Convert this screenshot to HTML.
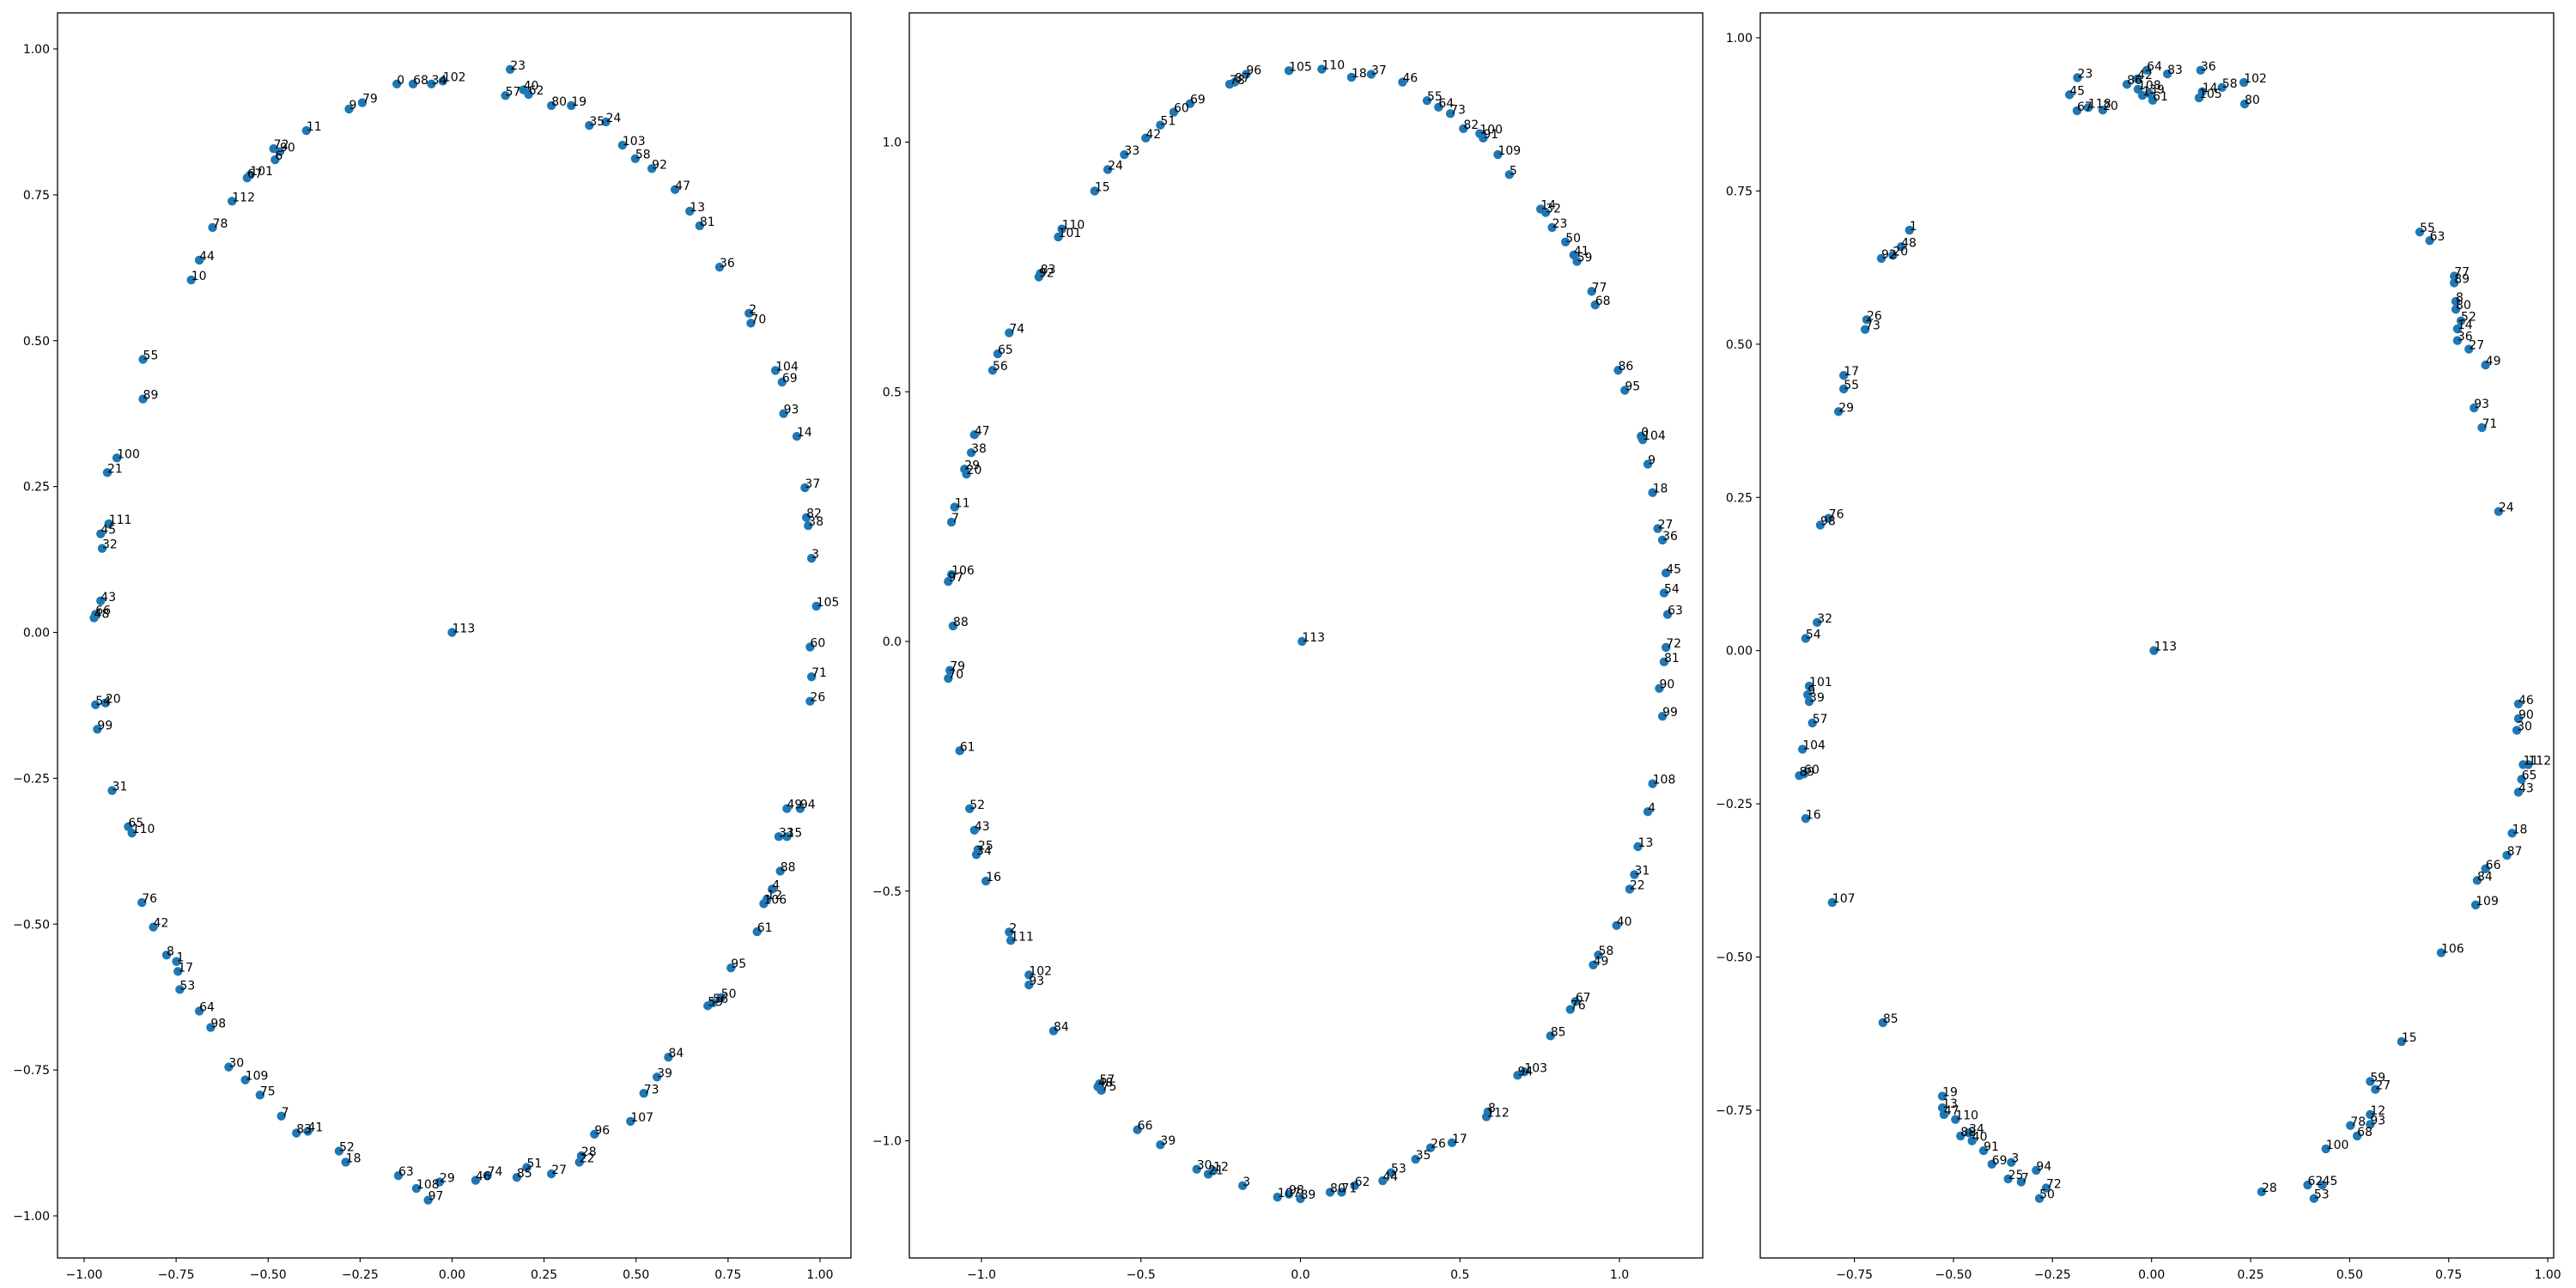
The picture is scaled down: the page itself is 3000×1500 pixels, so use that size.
<!DOCTYPE html>
<html><head><meta charset="utf-8"><title>Three scatter panels</title>
<style>html,body{margin:0;padding:0;background:#fff}svg{display:block}</style></head>
<body>
<svg id="chart" width="3000" height="1500" xmlns="http://www.w3.org/2000/svg" font-family="DejaVu Sans, Liberation Sans, sans-serif"></svg>
<script>
const p1Labels=["0","68","34","102","9","79","23","57","40","62","80","19","35","24","103","58","92","47","13","81","36","2","70","104","69","93","14","37","82","38","3","105","60","71","26","49","94","33","15","88","4","12","106","61","95","50","56","59","84","39","73","107","96","28","22","51","85","27","46","74","29","108","97","63","52","18","83","41","7","75","109","30","98","64","53","17","1","8","42","76","110","65","31","99","54","20","43","66","48","32","45","111","21","100","89","55","10","44","78","112","67","101","6","72","90","11","113"];
const p1X=[-0.15,-0.106,-0.056,-0.025,-0.28,-0.244,0.158,0.145,0.194,0.208,0.27,0.324,0.373,0.418,0.463,0.498,0.543,0.606,0.646,0.673,0.727,0.807,0.812,0.879,0.897,0.901,0.937,0.959,0.963,0.968,0.977,0.99,0.973,0.977,0.973,0.91,0.946,0.888,0.91,0.892,0.87,0.856,0.847,0.829,0.758,0.731,0.709,0.695,0.588,0.557,0.521,0.485,0.387,0.351,0.346,0.203,0.176,0.27,0.064,0.096,-0.034,-0.097,-0.065,-0.146,-0.307,-0.289,-0.423,-0.392,-0.464,-0.522,-0.562,-0.607,-0.656,-0.687,-0.74,-0.745,-0.749,-0.776,-0.812,-0.843,-0.87,-0.88,-0.924,-0.964,-0.969,-0.942,-0.955,-0.969,-0.973,-0.951,-0.955,-0.933,-0.937,-0.911,-0.84,-0.84,-0.709,-0.687,-0.651,-0.598,-0.557,-0.549,-0.481,-0.485,-0.468,-0.396,0];
const p1Y=[0.94,0.94,0.94,0.945,0.897,0.908,0.965,0.92,0.93,0.922,0.903,0.903,0.869,0.875,0.835,0.812,0.795,0.759,0.722,0.697,0.626,0.547,0.53,0.449,0.429,0.375,0.336,0.248,0.197,0.183,0.127,0.045,-0.025,-0.076,-0.118,-0.302,-0.302,-0.35,-0.35,-0.409,-0.44,-0.457,-0.465,-0.513,-0.575,-0.626,-0.635,-0.64,-0.728,-0.762,-0.79,-0.838,-0.86,-0.897,-0.908,-0.917,-0.934,-0.928,-0.939,-0.931,-0.942,-0.953,-0.973,-0.931,-0.889,-0.908,-0.858,-0.855,-0.829,-0.793,-0.767,-0.745,-0.677,-0.649,-0.612,-0.581,-0.564,-0.553,-0.505,-0.463,-0.344,-0.333,-0.271,-0.166,-0.124,-0.121,0.054,0.031,0.025,0.144,0.169,0.186,0.274,0.299,0.4,0.468,0.604,0.638,0.694,0.739,0.779,0.784,0.81,0.829,0.824,0.86,0];

const p2Labels=["105","110","18","37","46","55","64","73","82","100","91","109","5","14","32","23","50","41","59","77","68","86","95","0","104","9","18","27","36","45","54","63","72","81","90","99","108","4","13","31","22","40","58","49","67","76","85","94","103","112","8","17","26","35","53","44","62","71","80","89","98","107","3","21","30","12","39","66","57","75","48","84","93","102","111","2","61","52","43","25","34","16","70","79","88","106","97","7","11","20","29","38","47","56","65","74","92","83","101","110","15","24","33","42","51","60","69","78","87","96","113"];
const p2X=[-0.036,0.067,0.16,0.222,0.32,0.397,0.433,0.47,0.511,0.562,0.573,0.619,0.655,0.753,0.769,0.789,0.831,0.857,0.867,0.913,0.924,0.996,1.017,1.068,1.073,1.089,1.104,1.12,1.135,1.146,1.14,1.151,1.146,1.14,1.125,1.135,1.104,1.089,1.058,1.047,1.032,0.991,0.934,0.918,0.862,0.846,0.784,0.681,0.702,0.583,0.588,0.475,0.408,0.361,0.284,0.258,0.17,0.129,0.093,0,-0.036,-0.072,-0.181,-0.289,-0.325,-0.273,-0.439,-0.511,-0.63,-0.624,-0.635,-0.774,-0.851,-0.851,-0.908,-0.913,-1.068,-1.037,-1.022,-1.011,-1.016,-0.986,-1.104,-1.099,-1.089,-1.094,-1.104,-1.094,-1.084,-1.047,-1.053,-1.032,-1.022,-0.965,-0.949,-0.913,-0.82,-0.815,-0.759,-0.748,-0.645,-0.604,-0.552,-0.485,-0.439,-0.397,-0.346,-0.222,-0.206,-0.17,0.005];
const p2Y=[1.143,1.146,1.13,1.136,1.12,1.083,1.07,1.057,1.027,1.017,1.008,0.975,0.935,0.866,0.859,0.829,0.8,0.774,0.761,0.701,0.674,0.543,0.503,0.411,0.404,0.355,0.298,0.226,0.203,0.137,0.097,0.054,-0.012,-0.041,-0.094,-0.15,-0.285,-0.341,-0.411,-0.467,-0.496,-0.569,-0.628,-0.648,-0.721,-0.737,-0.79,-0.869,-0.862,-0.952,-0.942,-1.004,-1.014,-1.037,-1.064,-1.08,-1.09,-1.103,-1.103,-1.116,-1.107,-1.113,-1.09,-1.067,-1.057,-1.06,-1.008,-0.978,-0.886,-0.899,-0.892,-0.78,-0.688,-0.668,-0.599,-0.582,-0.219,-0.335,-0.378,-0.417,-0.427,-0.48,-0.074,-0.058,0.031,0.134,0.12,0.239,0.269,0.335,0.345,0.378,0.414,0.543,0.576,0.618,0.73,0.737,0.81,0.826,0.902,0.945,0.975,1.008,1.034,1.06,1.077,1.116,1.12,1.136,0];

const p3Labels=["23","45","67","118","20","86","42","64","108","1","39","61","83","36","14","105","58","102","80","1","48","20","92","26","73","17","55","29","76","98","32","54","101","9","39","57","104","60","89","16","107","85","19","13","47","110","88","34","40","91","69","3","25","7","94","72","50","28","62","45","53","100","78","68","93","12","59","27","15","106","109","84","66","87","18","43","65","11","112","30","90","46","24","71","93","49","27","36","14","52","80","8","77","89","55","63","113"];
const p3X=[-0.187,-0.207,-0.188,-0.16,-0.123,-0.062,-0.036,-0.012,-0.034,-0.023,-0.006,0.003,0.04,0.124,0.128,0.12,0.178,0.233,0.235,-0.611,-0.632,-0.653,-0.682,-0.719,-0.723,-0.777,-0.777,-0.79,-0.815,-0.836,-0.844,-0.873,-0.864,-0.868,-0.864,-0.856,-0.881,-0.877,-0.889,-0.873,-0.806,-0.678,-0.528,-0.528,-0.524,-0.495,-0.482,-0.461,-0.453,-0.424,-0.403,-0.354,-0.362,-0.329,-0.291,-0.266,-0.283,0.278,0.394,0.431,0.41,0.44,0.502,0.519,0.552,0.552,0.552,0.565,0.631,0.731,0.818,0.822,0.843,0.897,0.91,0.926,0.934,0.938,0.951,0.922,0.926,0.926,0.876,0.834,0.814,0.843,0.801,0.772,0.772,0.781,0.768,0.768,0.764,0.764,0.677,0.702,0.006];
const p3Y=[0.935,0.907,0.881,0.886,0.882,0.924,0.933,0.947,0.916,0.906,0.909,0.898,0.941,0.947,0.912,0.902,0.919,0.927,0.892,0.686,0.659,0.645,0.64,0.54,0.524,0.449,0.427,0.39,0.216,0.205,0.046,0.02,-0.058,-0.072,-0.083,-0.118,-0.161,-0.201,-0.204,-0.274,-0.411,-0.607,-0.727,-0.746,-0.757,-0.765,-0.792,-0.787,-0.8,-0.816,-0.838,-0.835,-0.862,-0.867,-0.848,-0.877,-0.894,-0.883,-0.872,-0.872,-0.894,-0.813,-0.775,-0.792,-0.773,-0.757,-0.703,-0.716,-0.638,-0.493,-0.415,-0.375,-0.356,-0.334,-0.298,-0.231,-0.21,-0.186,-0.186,-0.13,-0.111,-0.087,0.227,0.364,0.396,0.466,0.492,0.506,0.525,0.538,0.557,0.57,0.611,0.6,0.683,0.669,0];

const p1XTicks=[-1,-0.75,-0.5,-0.25,0,0.25,0.5,0.75,1];
const p1YTicks=[-1,-0.75,-0.5,-0.25,0,0.25,0.5,0.75,1];
const p2XTicks=[-1,-0.5,0,0.5,1];
const p2YTicks=[-1,-0.5,0,0.5,1];
const p3XTicks=[-0.75,-0.5,-0.25,0,0.25,0.5,0.75,1];
const p3YTicks=[-0.75,-0.5,-0.25,0,0.25,0.5,0.75,1];

const NS="http://www.w3.org/2000/svg";
const svg=document.getElementById('chart');
function mk(tag,attrs,parent){const e=document.createElementNS(NS,tag);for(const k in attrs)e.setAttribute(k,attrs[k]);(parent||svg).appendChild(e);return e;}
function fmt(v,d){const s=Math.abs(v).toFixed(d);return (v<-1e-9?'\u2212':'')+s;}

function panel(name,box,xd,yd,xt,yt,dec,labels,xs,ys){
  const g=mk('g',{});
  
  
  const sx=v=>box.l+(v-xd[0])/(xd[1]-xd[0])*(box.r-box.l);
  const sy=v=>box.b-(v-yd[0])/(yd[1]-yd[0])*(box.b-box.t);
  for(let i=0;i<xs.length;i++){
    const c=mk('circle',{cx:sx(xs[i]),cy:sy(ys[i]),r:5.2,fill:'#1f77b4'},g);
    
    
  }
  for(let i=0;i<xs.length;i++){
    const t=mk('text',{x:sx(xs[i]),y:sy(ys[i]),'font-size':14,fill:'#000'},g);
    
    
    t.textContent=labels[i];
  }
  const fr=mk('rect',{x:box.l,y:box.t,width:box.r-box.l,height:box.b-box.t,fill:'none',stroke:'#000','stroke-width':1.3},g);
  
  
  xt.forEach(v=>{
    const x=sx(v);
    mk('line',{x1:x,x2:x,y1:box.b,y2:box.b+5,stroke:'#000','stroke-width':1.1},g);
    const t=mk('text',{x:x,y:box.b+24,'font-size':14,'text-anchor':'middle',fill:'#000'},g);
    
    
    t.textContent=fmt(v,dec);
  });
  yt.forEach(v=>{
    const y=sy(v);
    mk('line',{x1:box.l-5,x2:box.l,y1:y,y2:y,stroke:'#000','stroke-width':1.1},g);
    const t=mk('text',{x:box.l-9,y:y+5,'font-size':14,'text-anchor':'end',fill:'#000'},g);
    
    
    t.textContent=fmt(v,dec);
  });
}
// axis domains derived from reference tick positions
panel('panel-1',{l:67,r:991,t:15,b:1465},[(67-526.5)/428.5,(991-526.5)/428.5],[(736.5-1465)/679.5,(736.5-15)/679.5],p1XTicks,p1YTicks,2,p1Labels,p1X,p1Y);
panel('panel-2',{l:1059,r:1983,t:15,b:1465},[(1059-1514.5)/371.5,(1983-1514.5)/371.5],[(747-1465)/581.5,(747-15)/581.5],p2XTicks,p2YTicks,1,p2Labels,p2X,p2Y);
panel('panel-3',{l:2050,r:2974,t:15,b:1465},[(2050-2505.7)/461.4,(2974-2505.7)/461.4],[(757.7-1465)/713.7,(757.7-15)/713.7],p3XTicks,p3YTicks,2,p3Labels,p3X,p3Y);
</script>
</body></html>
